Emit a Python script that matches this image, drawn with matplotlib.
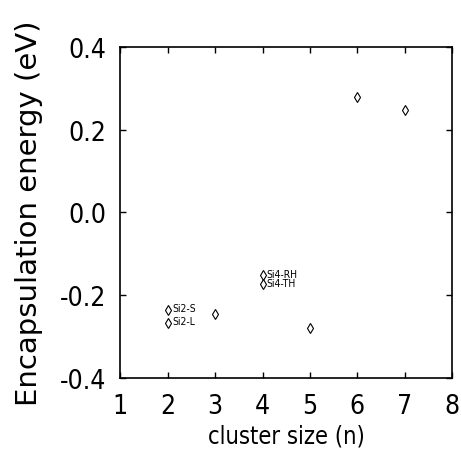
import numpy as np
import matplotlib as mpl
import matplotlib.pyplot as plt
from matplotlib import font_manager

# cluster size and encapsulation energy
cluster_size = [2, 2, 3, 4, 4, 5, 6, 7]
energy = [-0.235, -0.266, -0.246, -0.151, -0.174, -0.280, 0.278, 0.247]
point_labels = ["Si2-S", "Si2-L", "", "Si4-RH", "Si4-TH", "", "", ""]

xticks = [1, 2, 3, 4, 5, 6, 7, 8]
yticks = [-0.4, -0.2, 0.0, 0.2, 0.4]

# pick a narrow face for the numbers if one is around
fonts = font_manager.fontManager.ttflist
names = [f.name for f in fonts]
if "Liberation Sans Narrow" in names:
    narrow = dict(family="Liberation Sans Narrow")
elif any(f.name == "DejaVu Sans" and f.stretch == "condensed" for f in fonts):
    narrow = dict(family="DejaVu Sans", stretch="condensed")
else:
    narrow = dict(family="Liberation Sans")

fig = plt.figure(figsize=(4.61, 4.64), dpi=100)
ax = fig.add_axes([0.261, 0.183, 0.720, 0.714])

ax.plot(cluster_size, energy, linestyle="none", marker="d", markersize=5,
        markerfacecolor="white", markeredgecolor="black", markeredgewidth=0.8)

for x, y, lab in zip(cluster_size, energy, point_labels):
    if lab:
        ax.annotate(lab, (x, y), xytext=(3, 1), textcoords="offset points",
                    fontsize=7.5, va="center", ha="left", **narrow)

ax.set_xlim(1, 8)
ax.set_ylim(-0.4, 0.4)
ax.set_xticks(xticks)
ax.set_yticks(yticks)
ax.set_yticklabels(["%.1f" % v for v in yticks])

ax.tick_params(direction="in", length=4, width=1, top=True, right=True,
               labelsize=19)
ax.tick_params(axis="x", pad=11)
ax.tick_params(axis="y", pad=10)
for lab in ax.get_xticklabels() + ax.get_yticklabels():
    lab.set_family(narrow["family"])
    if "stretch" in narrow:
        lab.set_stretch(narrow["stretch"])

ax.set_xlabel("cluster size (n)", fontsize=17, labelpad=3, **narrow)
ax.set_ylabel("Encapsulation energy (eV)", fontsize=21, family="DejaVu Sans",
              labelpad=12)

for s in ax.spines.values():
    s.set_linewidth(1.2)

fig.savefig("out.png", dpi=100)
